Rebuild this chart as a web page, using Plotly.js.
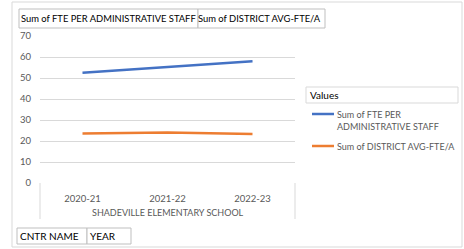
<!DOCTYPE html>
<html>
<head>
<meta charset="utf-8">
<script src="https://cdn.plot.ly/plotly-3.0.1.min.js"></script>
<style>html,body{margin:0;padding:0;background:#fff;}#chart{width:464px;height:249px;}</style>
</head>
<body>
<div id="chart"></div>
<script>
// ---- data ----
const years = ["2020-21", "2021-22", "2022-23"];
const schoolName = "SHADEVILLE ELEMENTARY SCHOOL";
const fteAdminValues = [52.5, 55.3, 58.0];
const districtAvgValues = [23.6, 24.0, 23.3];
const seriesNames = ["Sum of FTE PER ADMINISTRATIVE STAFF", "Sum of DISTRICT AVG-FTE/A"];
const legendLabels = ["Sum of FTE PER<br>ADMINISTRATIVE STAFF", "Sum of DISTRICT AVG-FTE/A"];
const yTicks = [0, 10, 20, 30, 40, 50, 60, 70];
const fieldButtonsTop = ["Sum of FTE PER ADMINISTRATIVE STAFF", "Sum of DISTRICT AVG-FTE/A"];
const fieldButtonsBottom = ["CNTR NAME", "YEAR"];
const legendTitle = "Values";

// ---- style ----
const W = 464, H = 249;
const colors = ["#4472C4", "#ED7D31"];
const txt = "#595959";
const grid = "#D9D9D9";
const font = "Lato, 'Open Sans', sans-serif";
const px = v => v / W;
const py = v => 1 - v / H;

const traces = [
  {x: years, y: fteAdminValues, name: seriesNames[0], type: "scatter", mode: "lines",
   line: {color: colors[0], width: 2.5}, showlegend: false},
  {x: years, y: districtAvgValues, name: seriesNames[1], type: "scatter", mode: "lines",
   line: {color: colors[1], width: 2.5}, showlegend: false}
];

const shapes = [
  // outer chart border
  {type: "rect", xref: "paper", yref: "paper", x0: px(12), x1: px(462), y0: py(2), y1: py(247),
   line: {color: grid, width: 1}},
  // top field buttons
  {type: "rect", xref: "paper", yref: "paper", x0: px(19), x1: px(198), y0: py(9), y1: py(28),
   line: {color: "#BFBFBF", width: 1}, fillcolor: "#fff"},
  {type: "rect", xref: "paper", yref: "paper", x0: px(198), x1: px(325), y0: py(9), y1: py(28),
   line: {color: "#BFBFBF", width: 1}, fillcolor: "#fff"},
  // bottom field buttons
  {type: "rect", xref: "paper", yref: "paper", x0: px(17), x1: px(87), y0: py(228), y1: py(244),
   line: {color: "#BFBFBF", width: 1}, fillcolor: "#fff"},
  {type: "rect", xref: "paper", yref: "paper", x0: px(87), x1: px(131), y0: py(228), y1: py(244),
   line: {color: "#BFBFBF", width: 1}, fillcolor: "#fff"},
  // category box
  {type: "line", xref: "paper", yref: "paper", x0: px(40), x1: px(40), y0: py(183), y1: py(219),
   line: {color: grid, width: 1}},
  {type: "line", xref: "paper", yref: "paper", x0: px(295), x1: px(295), y0: py(183), y1: py(219),
   line: {color: grid, width: 1}},
  // legend title box
  {type: "rect", xref: "paper", yref: "paper", x0: px(306), x1: px(458), y0: py(87), y1: py(103),
   line: {color: grid, width: 1}},
  // legend lines
  {type: "line", xref: "paper", yref: "paper", x0: px(312), x1: px(334), y0: py(114), y1: py(114),
   line: {color: colors[0], width: 2.5}},
  {type: "line", xref: "paper", yref: "paper", x0: px(312), x1: px(334), y0: py(146), y1: py(146),
   line: {color: colors[1], width: 2.5}}
];

const ann = (text, x, y, xanchor, size, color) => ({
  text, xref: "paper", yref: "paper", x: px(x), y: py(y), xanchor, yanchor: "middle",
  showarrow: false, align: "left", font: {family: font, size: size, color: color || "#000"}
});

const annotations = [
  ann(fieldButtonsTop[0], 19, 18.5, "left", 9.4),
  ann(fieldButtonsTop[1], 196, 18.5, "left", 9.4),
  ann(fieldButtonsBottom[0], 18, 236, "left", 10),
  ann(fieldButtonsBottom[1], 88, 236, "left", 10),
  ann(legendTitle, 308, 95, "left", 10),
  ann(schoolName, 167.5, 212, "center", 9, txt),
  ann(legendLabels[0], 335, 120, "left", 9, txt),
  ann(legendLabels[1], 335, 146, "left", 9, txt)
];

const layout = {
  width: W, height: H,
  margin: {l: 0, r: 0, t: 0, b: 0},
  paper_bgcolor: "#fff", plot_bgcolor: "#fff",
  showlegend: false,
  font: {family: font, size: 9.5, color: txt},
  xaxis: {
    type: "category", domain: [px(40), px(295)], range: [-0.5, 2.5],
    showgrid: false, zeroline: false, showline: false, ticks: "",
    tickfont: {family: font, size: 9.5, color: txt}, ticklabelstandoff: 8
  },
  yaxis: {
    domain: [py(183), py(36)], range: [0, 70], tickvals: yTicks,
    showgrid: true, gridcolor: grid, gridwidth: 1, zeroline: false, showline: false, ticks: "",
    tickfont: {family: font, size: 9.5, color: txt}, ticklabelstandoff: 8
  },
  shapes, annotations
};

Plotly.newPlot("chart", traces, layout, {staticPlot: true, displayModeBar: false});
</script>
</body>
</html>
